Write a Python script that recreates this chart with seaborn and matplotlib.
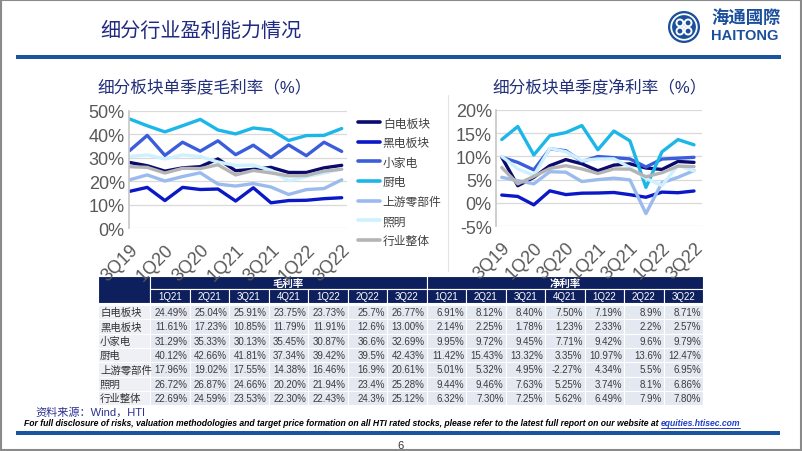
import numpy as np
import pandas as pd
import matplotlib
matplotlib.use("Agg")
import matplotlib.pyplot as plt
from matplotlib.patches import Rectangle, Circle
from matplotlib.lines import Line2D
import seaborn as sns

# ---- data ----
quarters = ["3Q19", "4Q19", "1Q20", "2Q20", "3Q20", "4Q20",
            "1Q21", "2Q21", "3Q21", "4Q21", "1Q22", "2Q22", "3Q22"]
table_quarters = quarters[6:]
segments = ["白电板块", "黑电板块", "小家电", "厨电", "上游零部件", "照明", "行业整体"]
colors = ["#0b0b6e", "#0a18c8", "#3a5ddc", "#1cb6e8", "#9bbbee", "#cdf1ff", "#b4b4b4"]

# 3Q19-4Q20
gross_early = [
    [28.0, 26.6, 24.3, 25.7, 26.2, 29.5],
    [15.7, 17.4, 11.8, 17.4, 16.5, 16.7],
    [33.0, 39.5, 31.0, 36.6, 32.8, 37.2],
    [46.5, 43.6, 41.0, 43.6, 46.3, 41.8],
    [20.6, 22.7, 20.1, 22.0, 23.6, 18.8],
    [30.5, 31.2, 29.5, 31.2, 30.5, 28.2],
    [26.2, 25.9, 23.5, 25.5, 25.4, 27.0],
]
net_early = [
    [9.8, 3.7, 5.5, 8.0, 9.3, 8.4],
    [1.7, 1.4, -0.4, 2.6, 1.8, 2.1],
    [9.8, 8.7, 7.1, 11.6, 11.2, 8.9],
    [13.6, 16.4, 10.3, 14.4, 15.1, 16.6],
    [5.5, 4.8, 4.1, 6.7, 6.6, 4.6],
    [10.0, 7.3, 5.9, 11.7, 11.0, 9.1],
    [7.6, 4.1, 5.7, 7.4, 8.0, 7.3],
]
# 1Q21-3Q22, from the table
gross_table = [
    ["24.49%", "25.04%", "25.91%", "23.75%", "23.73%", "25.7%", "26.77%"],
    ["11.61%", "17.23%", "10.85%", "11.79%", "11.91%", "12.6%", "13.00%"],
    ["31.29%", "35.33%", "30.13%", "35.45%", "30.87%", "36.6%", "32.69%"],
    ["40.12%", "42.66%", "41.81%", "37.34%", "39.42%", "39.5%", "42.43%"],
    ["17.96%", "19.02%", "17.55%", "14.38%", "16.46%", "16.9%", "20.61%"],
    ["26.72%", "26.87%", "24.66%", "20.20%", "21.94%", "23.4%", "25.28%"],
    ["22.69%", "24.59%", "23.53%", "22.30%", "22.43%", "24.3%", "25.12%"],
]
net_table = [
    ["6.91%", "8.12%", "8.40%", "7.50%", "7.19%", "8.9%", "8.71%"],
    ["2.14%", "2.25%", "1.78%", "1.23%", "2.33%", "2.2%", "2.57%"],
    ["9.95%", "9.72%", "9.45%", "7.71%", "9.42%", "9.6%", "9.79%"],
    ["11.42%", "15.43%", "13.32%", "3.35%", "10.97%", "13.6%", "12.47%"],
    ["5.01%", "5.32%", "4.95%", "-2.27%", "4.34%", "5.5%", "6.95%"],
    ["9.44%", "9.46%", "7.63%", "5.25%", "3.74%", "8.1%", "6.86%"],
    ["6.32%", "7.30%", "7.25%", "5.62%", "6.49%", "7.9%", "7.80%"],
]

rows = []
for seg, ge, gt, ne, nt in zip(segments, gross_early, gross_table, net_early, net_table):
    g = ge + [float(s.rstrip("%")) for s in gt]
    n = ne + [float(s.rstrip("%")) for s in nt]
    for i, q in enumerate(quarters):
        rows.append({"idx": i, "quarter": q, "segment": seg, "gross": g[i], "net": n[i]})
df = pd.DataFrame(rows)
palette = dict(zip(segments, colors))

sns.set_theme(style="white")
plt.rcParams["font.family"] = ["Liberation Sans", "Noto Sans CJK SC", "DejaVu Sans"]

W, H = 802, 452
fig = plt.figure(figsize=(W / 100, H / 100), dpi=100)
bg = fig.add_axes([0, 0, 1, 1])
bg.set_xlim(0, W)
bg.set_ylim(H, 0)
bg.axis("off")


def px_axes(x0, y0, x1, y1):
    return fig.add_axes([x0 / W, 1 - y1 / H, (x1 - x0) / W, (y1 - y0) / H])


def style(ax, ylim, yticks, xlim):
    ax.set_xlim(*xlim)
    ax.set_ylim(*ylim)
    ax.set_yticks(yticks)
    ax.set_yticklabels([f"{v}%" for v in yticks])
    ax.set_xticks(range(0, len(quarters), 2))
    ax.set_xticklabels(quarters[::2], rotation=45, ha="right", rotation_mode="anchor")
    ax.set_xlabel("")
    ax.set_ylabel("")
    ax.grid(axis="y", color="#d9d9d9", lw=0.9)
    ax.grid(axis="x", visible=False)
    for s in ["top", "right", "bottom"]:
        ax.spines[s].set_visible(False)
    ax.spines["left"].set_color("#c8c8c8")
    ax.tick_params(axis="y", length=0, labelsize=13, colors="#595959", pad=3)
    ax.tick_params(axis="x", length=0, labelsize=13, colors="#595959", pad=9)
    ax.set_facecolor("none")


# ---- charts ----
ax1 = px_axes(129, 111.7, 347, 229.3)
sns.lineplot(data=df, x="idx", y="gross", hue="segment", hue_order=segments,
             palette=palette, linewidth=2.4, ax=ax1, legend=False)
style(ax1, (0, 50), list(range(0, 51, 10)), (-0.03, 12.3))

ax2 = px_axes(496, 110.7, 702, 227.3)
sns.lineplot(data=df, x="idx", y="net", hue="segment", hue_order=segments,
             palette=palette, linewidth=2.4, ax=ax2, legend=False)
style(ax2, (-5, 20), list(range(-5, 21, 5)), (-0.36, 12.5))

handles = [Line2D([], [], color=c, lw=2.6) for c in colors]
ax1.legend(handles, segments, loc="upper left", bbox_to_anchor=(358 / W, 1 - 118.5 / H),
           bbox_transform=fig.transFigure, frameon=False, fontsize=8.5,
           handlelength=1.9, handletextpad=0.2, labelspacing=0.64,
           borderpad=0, borderaxespad=0, labelcolor="#404040")

title_c = "#22307a"
bg.text(97, 87, "细分板块单季度毛利率（%）", fontsize=12, color=title_c, va="center", ha="left")
bg.text(492, 88, "细分板块单季度净利率（%）", fontsize=12, color=title_c, va="center", ha="left")
bg.plot([448, 448], [96, 272], color="#e4e4e4", lw=0.8)

# ---- header ----
bg.text(100, 31, "细分行业盈利能力情况", fontsize=14.5, color="#1f2a80", va="center", ha="left")
bar_c = "#1a56a0"
bg.add_patch(Rectangle((16, 56), 765, 4, fc=bar_c, ec="none"))
bg.add_patch(Rectangle((16, 431.5), 764, 4, fc=bar_c, ec="none"))

lc = "#1b4f9c"
cx, cy = 684, 28
bg.add_patch(Circle((cx, cy), 16, fc=lc, ec="none"))
bg.add_patch(Circle((cx, cy), 12.8, fc="none", ec="white", lw=1.3))
for a in np.deg2rad([45, 135, 225, 315]):
    bg.add_patch(Circle((cx + 5.8 * np.cos(a), cy + 5.8 * np.sin(a)), 3.4, fc="none", ec="white", lw=1.4))
bg.add_patch(Circle((cx, cy), 1.8, fc="white", ec="none"))
bg.text(711, 18, "海通國際", fontsize=12.5, color=lc, fontweight="bold", va="center", ha="left")
bg.text(711, 36.5, "HAITONG", fontsize=10.5, color=lc, fontweight="bold", va="center", ha="left")

# ---- table ----
navy = "#0e1f5e"
tx0, lab_w, col_w = 98, 52, 39.5
hy0, hh1, hh2 = 277, 13, 14
ry0, rh = 306, 14.3
bg.add_patch(Rectangle((tx0, hy0), lab_w, hh1 + hh2, fc=navy, ec="white", lw=0.8))
for k, name in enumerate(["毛利率", "净利率"]):
    x = tx0 + lab_w + k * 7 * col_w
    bg.add_patch(Rectangle((x, hy0), 7 * col_w, hh1, fc=navy, ec="white", lw=0.8))
    bg.text(x + 3.5 * col_w, hy0 + hh1 / 2, name, color="white", fontsize=7.5,
            fontweight="bold", ha="center", va="center")
    for j, q in enumerate(table_quarters):
        cx0 = x + j * col_w
        bg.add_patch(Rectangle((cx0, hy0 + hh1), col_w, hh2, fc=navy, ec="white", lw=0.8))
        bg.text(cx0 + col_w / 2, hy0 + hh1 + hh2 / 2, q, color="white", fontsize=7,
                ha="center", va="center")

for i, seg in enumerate(segments):
    y = ry0 + i * rh
    bg.add_patch(Rectangle((tx0, y), lab_w, rh, fc="#eef0f6", ec="white", lw=0.8))
    bg.text(tx0 + 2, y + rh / 2, seg, fontsize=7.5, color="#333333", ha="left", va="center")
    vals = gross_table[i] + net_table[i]
    for j, v in enumerate(vals):
        cx0 = tx0 + lab_w + j * col_w
        bg.add_patch(Rectangle((cx0, y), col_w, rh, fc="#e4e8f1", ec="white", lw=0.8))
        bg.text(cx0 + col_w - 2, y + rh / 2, v, fontsize=7, color="#3c3c3c", ha="right", va="center")

# ---- footer ----
bg.text(35, 412.5, "资料来源：Wind，HTI", fontsize=8, color="#2e3192", ha="left", va="center")
disclaimer = ("For full disclosure of risks, valuation methodologies and target price formation on all "
              "HTI rated stocks, please refer to the latest full report on our website at ")
link_txt = "equities.htisec.com"
ffam = ["Liberation Sans Narrow", "Liberation Sans"]
fs0 = 7.0
t1 = bg.text(24, 424, disclaimer, fontsize=fs0, fontweight="bold", fontstyle="italic",
             family=ffam, color="black", ha="left", va="center")
t2 = bg.text(24, 424, link_txt, fontsize=fs0, fontweight="bold", fontstyle="italic",
             family=ffam, color="#1f3fc8", ha="left", va="center")
fig.canvas.draw()
r = fig.canvas.get_renderer()
w_all = t1.get_window_extent(r).width + t2.get_window_extent(r).width
fs = fs0 * (748 - 24) / w_all
t1.set_fontsize(fs)
t2.set_fontsize(fs)
fig.canvas.draw()
w1 = t1.get_window_extent(r).width
w2 = t2.get_window_extent(r).width
t2.set_x(24 + w1)
bg.plot([24 + w1, 24 + w1 + w2], [428.5, 428.5], color="#1f3fc8", lw=0.7)
bg.text(401, 446, "6", fontsize=8, color="#333333", ha="center", va="center")

# slide frame
bg.add_patch(Rectangle((0.5, 0.5), W - 1.5, H - 1.5, fc="none", ec="#8a8a8a", lw=1.5))

fig.savefig("out.png", dpi=100)
